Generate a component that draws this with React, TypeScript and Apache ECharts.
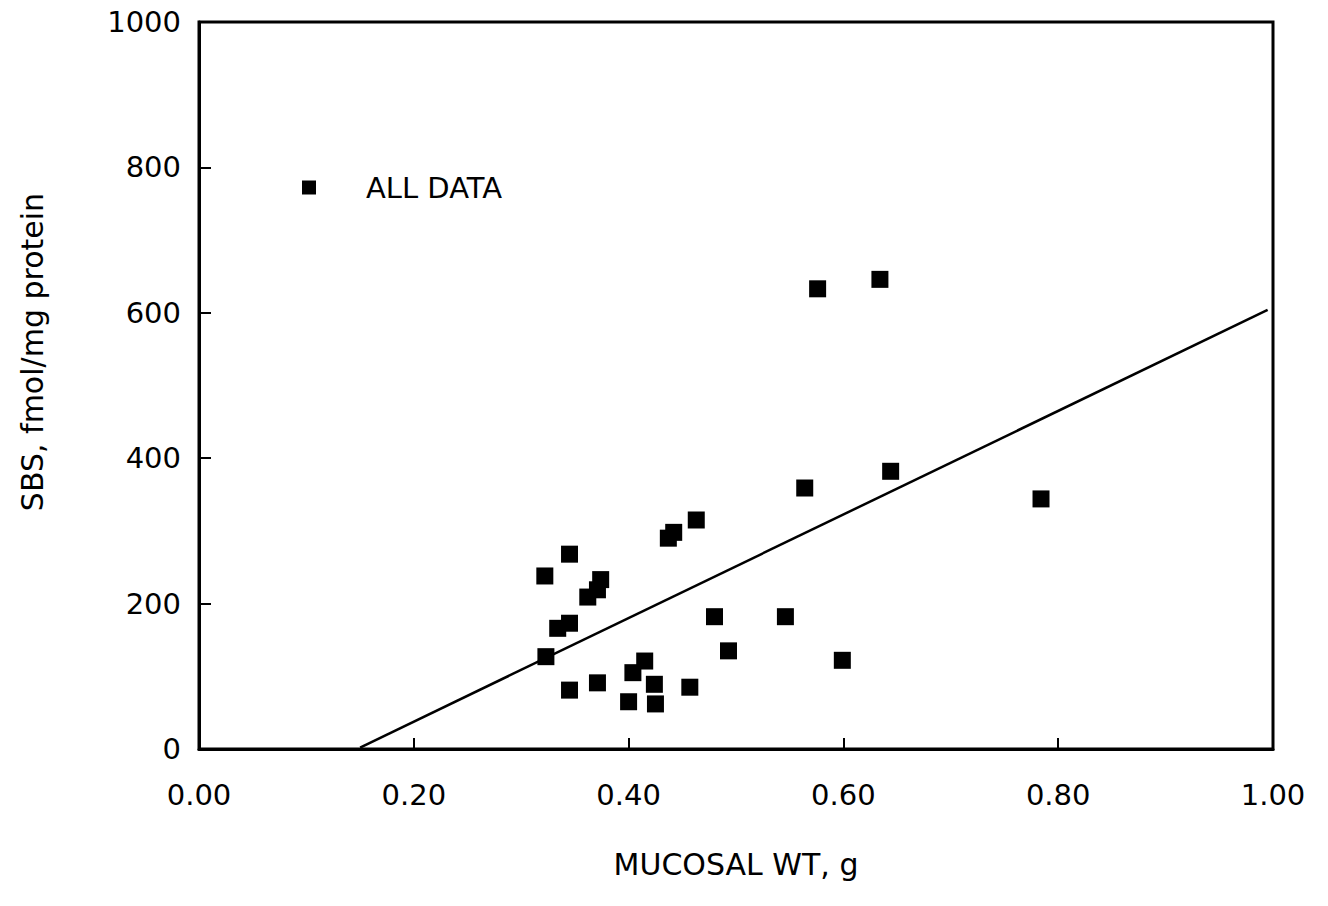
import React, { useEffect, useRef } from "react";
import * as echarts from "echarts";

// Mucosal weight (g) of each observation
const mucosalWt = [
  0.576, 0.634, 0.644, 0.564, 0.784, 0.463, 0.442, 0.437, 0.345, 0.322,
  0.374, 0.362, 0.371, 0.480, 0.546, 0.345, 0.334, 0.323, 0.493, 0.599,
  0.415, 0.404, 0.345, 0.371, 0.424, 0.457, 0.400, 0.425,
];
// SBS (fmol/mg protein) of each observation
const sbs = [
  633, 646, 382, 359, 344, 315, 298, 290, 268, 238,
  233, 209, 219, 182, 182, 173, 166, 127, 135, 122,
  121, 105, 81, 91, 89, 85, 65, 62,
];
// Regression line end points
const fitX = [0.15, 0.995];
const fitY = [2, 604];

const xTicks = [0, 0.2, 0.4, 0.6, 0.8, 1.0];
const yTicks = [0, 200, 400, 600, 800, 1000];

const seriesName = "ALL DATA";
const xTitle = "MUCOSAL WT, g";
const yTitle = "SBS, fmol/mg protein";

export default function App() {
  const ref = useRef<HTMLDivElement>(null);
  useEffect(() => {
    document.body.style.margin = "0";
    if (!ref.current) return;
    const chart = echarts.init(ref.current, undefined, { renderer: "svg" });
    const font = "DejaVu Sans";
    const points = mucosalWt.map((x, i) => [x, sbs[i]]);
    const fit = fitX.map((x, i) => [x, fitY[i]]);
    chart.setOption({
      animation: false,
      backgroundColor: "#ffffff",
      grid: {
        left: 199,
        right: 55,
        top: 22,
        bottom: 157,
        show: true,
        borderColor: "#000",
        borderWidth: 3,
        backgroundColor: "transparent",
      },
      legend: {
        data: [seriesName],
        left: 302,
        top: 173,
        padding: 0,
        itemWidth: 14,
        itemHeight: 14,
        icon: "rect",
        itemStyle: { color: "#000", opacity: 1 },
        textStyle: {
          fontFamily: font,
          fontSize: 29,
          color: "#000",
          padding: [0, 0, 0, 45],
        },
      },
      xAxis: {
        type: "value",
        min: xTicks[0],
        max: xTicks[xTicks.length - 1],
        interval: 0.2,
        name: xTitle,
        nameLocation: "middle",
        nameGap: 100,
        nameTextStyle: { fontFamily: font, fontSize: 30, color: "#000" },
        axisLine: { show: true, lineStyle: { color: "#000", width: 3 } },
        axisTick: { show: true, inside: true, length: 11, lineStyle: { color: "#000", width: 2 } },
        axisLabel: {
          fontFamily: font,
          fontSize: 29,
          color: "#000",
          margin: 31,
          formatter: (v: number) => v.toFixed(2),
        },
        splitLine: { show: false },
      },
      yAxis: {
        type: "value",
        min: yTicks[0],
        max: yTicks[yTicks.length - 1],
        interval: 200,
        axisLine: { show: true, lineStyle: { color: "#000", width: 3 } },
        axisTick: { show: true, inside: true, length: 12, lineStyle: { color: "#000", width: 2 } },
        axisLabel: {
          fontFamily: font,
          fontSize: 29,
          color: "#000",
          margin: 18,
          formatter: (v: number) => String(v),
        },
        splitLine: { show: false },
      },
      graphic: [
        {
          type: "text",
          x: 32,
          y: 352,
          rotation: Math.PI / 2,
          style: {
            text: yTitle,
            fontFamily: font,
            fontSize: 30,
            fill: "#000",
            align: "center",
            verticalAlign: "middle",
          },
        },
      ],
      series: [
        {
          name: seriesName,
          type: "scatter",
          data: points,
          symbol: "rect",
          symbolSize: 17,
          itemStyle: { color: "#000", opacity: 1 },
          z: 3,
        },
        {
          name: "fit",
          type: "line",
          data: fit,
          showSymbol: false,
          symbol: "none",
          lineStyle: { color: "#000", width: 2.5 },
          z: 2,
        },
      ],
    });
    return () => chart.dispose();
  }, []);
  return <div ref={ref} style={{ width: 1328, height: 906 }} />;
}
